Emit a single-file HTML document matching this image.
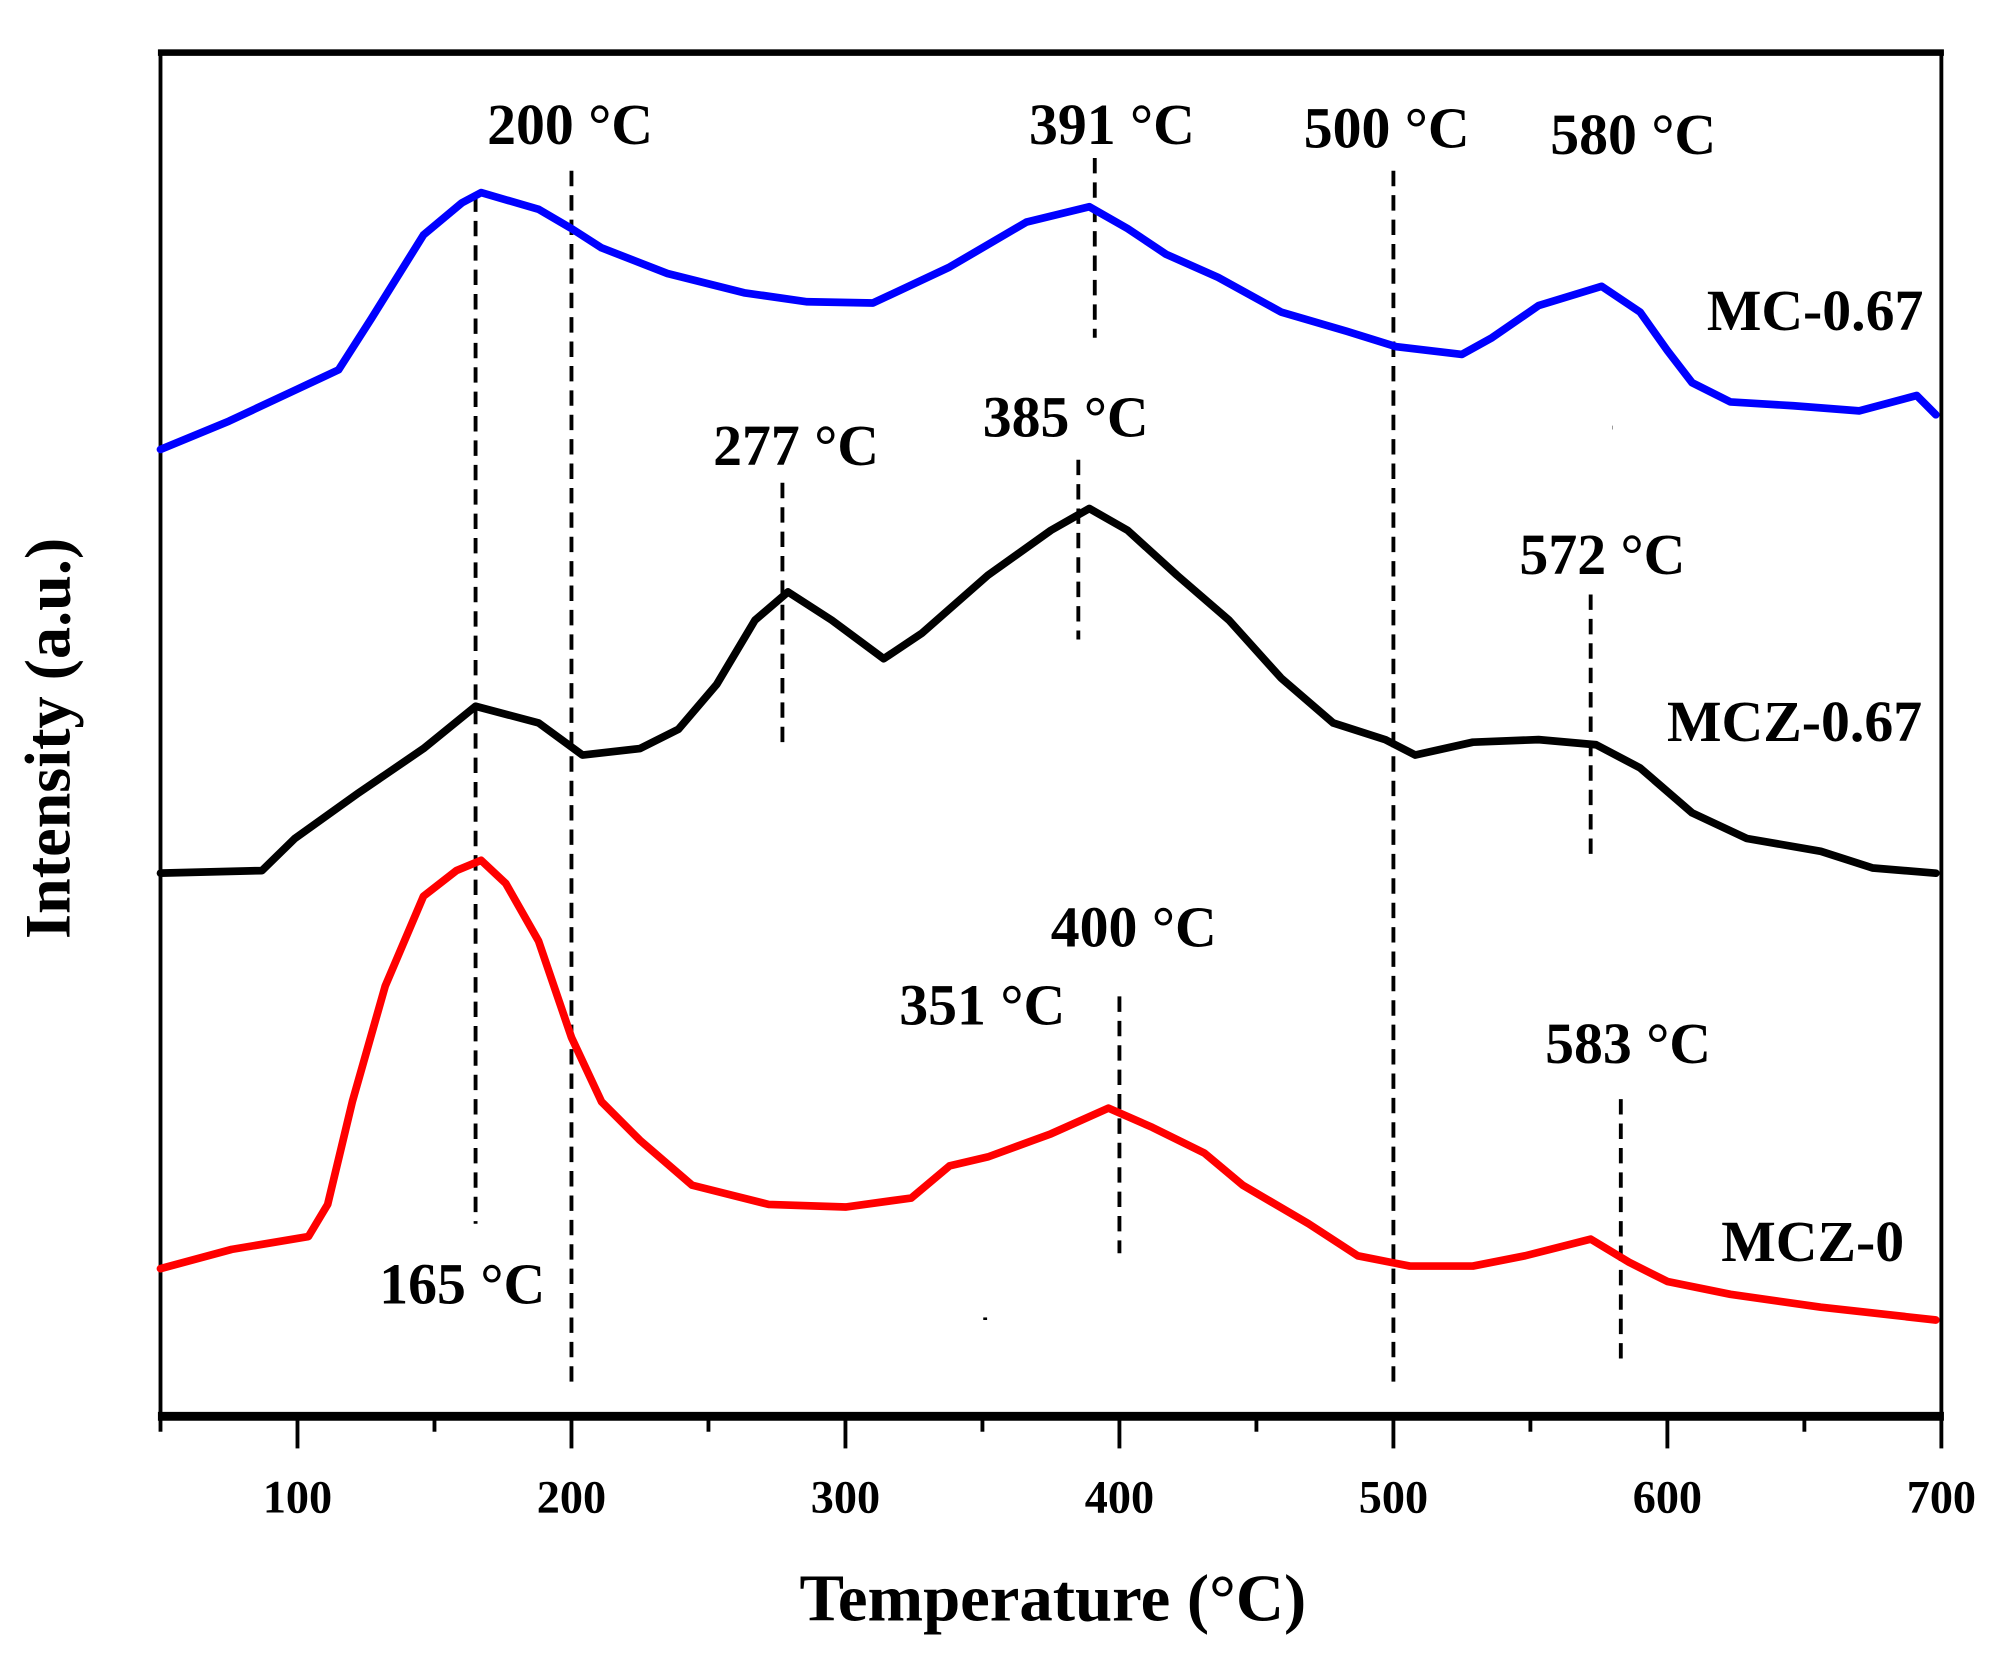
<!DOCTYPE html>
<html><head><meta charset="utf-8"><style>
html,body{margin:0;padding:0;background:#fff}
svg{display:block}
text{font-family:"Liberation Serif",serif;font-weight:bold;fill:#000}
</style></head><body>
<svg id="chart" width="2003" height="1659" viewBox="0 0 1560 1292" preserveAspectRatio="none" xmlns="http://www.w3.org/2000/svg">
<g id="frame"></g>
<g id="guides"></g>
<g id="series"></g>
<g id="labels"></g>
</svg>
<script>
const tempsBlue=[50,75,100,115,127,146,160,167,188,200,211,235,263,286,310,338,366,389,403,417,436,459,483,501,525,536,553,576,590,600,609,623,646,670,691,698];
const intBlue=[75.3,77.5,80,81.5,85.5,92,94.5,95.3,94,92.5,91,89,87.5,86.8,86.7,89.5,93,94.2,92.5,90.5,88.7,86,84.5,83.3,82.7,84,86.5,88,86,83,80.5,79,78.7,78.3,79.5,78];
const tempsBlack=[50,87,99,122,146,165,188,204,225,239,253,267,279,295,314,328,352,375,389,403,421,440,459,478,497,508,529,553,574,590,609,629,656,675,698];
const intBlack=[42.3,42.5,45,48.5,52,55.3,54,51.5,52,53.5,57,62,64.2,62,59,61,65.5,69,70.7,69,65.5,62,57.5,54,52.7,51.5,52.5,52.7,52.3,50.5,47,45,44,42.7,42.3];
const tempsRed=[50,76,104,111,120,132,146,158,167,176,188,200,211,225,244,272,300,324,338,352,375,396,412,431,445,469,487,506,529,548,572,586,600,623,656,698];
const intRed=[11.5,13,14,16.5,24.5,33.5,40.5,42.5,43.3,41.5,37,29.5,24.5,21.5,18,16.5,16.3,17,19.5,20.2,22,24,22.5,20.5,18,15,12.5,11.7,11.7,12.5,13.8,12,10.5,9.5,8.5,7.5];
const peakTemps=[165,200,391,500,580,277,385,572,351,400,583];
const peakTop=[95,97,98,97,77,72.7,74.5,64,7.7,32.7,24.7];
const peakBottom=[15,2,84,2,77,52.5,60.5,43.5,7.5,12.7,4.3];
const xTicks=[100,200,300,400,500,600,700];
const NS="http://www.w3.org/2000/svg";
const X0=125,X1=1512,Y0=1103,T0=50,T1=700;
function xs(t){return X0+(t-T0)*(X1-X0)/(T1-T0);}
function ys(v){return Y0-v*10;}
function mk(tag,attrs,parent){const e=document.createElementNS(NS,tag);for(const k in attrs)e.setAttribute(k,attrs[k]);parent.appendChild(e);return e;}
const frame=document.getElementById('frame');
let e;
e=mk('rect',{x:125,y:40,width:X1-125,height:Y0-40,fill:'none',stroke:'#000','stroke-width':3},frame);


e=mk('line',{x1:123,y1:41,x2:X1+2,y2:41,stroke:'#000','stroke-width':5},frame);


e=mk('line',{x1:123,y1:Y0,x2:X1+2,y2:Y0,stroke:'#000','stroke-width':7},frame);


for(let t=50;t<=700;t+=50){
  const major=(t%100===0);
  e=mk('line',{x1:xs(t),y1:Y0,x2:xs(t),y2:major?Y0+25:Y0+12,stroke:'#000','stroke-width':3},frame);
  
  
}
xTicks.forEach(t=>{
  e=mk('text',{x:xs(t),y:1178,'text-anchor':'middle','font-size':36},frame);
  e.textContent=t;
  
  
});
e=mk('text',{x:820,y:1262,'text-anchor':'middle','font-size':52},frame);
e.textContent='Temperature (°C)';


e=mk('text',{x:0,y:0,'text-anchor':'middle','font-size':50,transform:'translate(54,575) rotate(-90)'},frame);
e.textContent='Intensity (a.u.)';


const guides=document.getElementById('guides');
peakTemps.forEach((t,i)=>{
  e=mk('line',{x1:xs(t),x2:xs(t),y1:ys(peakTop[i]),y2:ys(peakBottom[i]),stroke:'#000','stroke-width':3,'stroke-dasharray':'12,7'},guides);
  
  
});
const ser=document.getElementById('series');
function line(ts,vs,color,name){
  const d=ts.map((t,i)=>(i?'L':'M')+xs(t).toFixed(1)+','+ys(vs[i]).toFixed(1)).join(' ');
  const p=mk('path',{d:d,fill:'none',stroke:color,'stroke-width':6,'stroke-linejoin':'round','stroke-linecap':'round'},ser);
  
  
}
line(tempsBlue,intBlue,'#0000ff','series-mc-0.67');
line(tempsBlack,intBlack,'#000000','series-mcz-0.67');
line(tempsRed,intRed,'#ff0000','series-mcz-0');
const labs=document.getElementById('labels');
const ann=[['200 °C',444,112],['391 °C',866,112],['500 °C',1080,115],['580 °C',1272,120],['277 °C',620,362],['385 °C',830,340],['572 °C',1248,447],['400 °C',883,737],['351 °C',765,798],['583 °C',1268,828],['165 °C',360,1015]];
ann.forEach(a=>{
  e=mk('text',{x:a[1],y:a[2],'text-anchor':'middle','font-size':45},labs);
  e.textContent=a[0];
  
  
});
const sl=[['MC-0.67',1498,257],['MCZ-0.67',1497,577],['MCZ-0',1483,982]];
sl.forEach(a=>{
  e=mk('text',{x:a[1],y:a[2],'text-anchor':'end','font-size':45},labs);
  e.textContent=a[0];
  
  
});
</script>
</body></html>
